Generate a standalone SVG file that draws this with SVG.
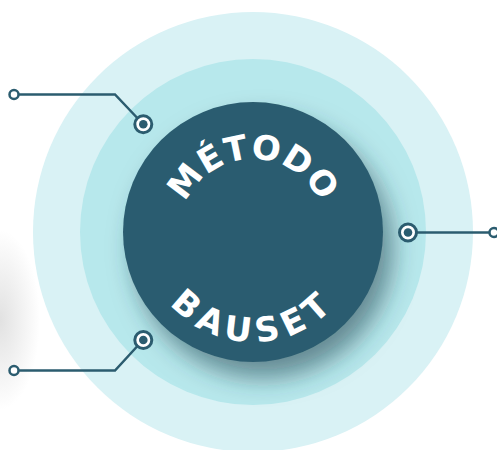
<svg xmlns="http://www.w3.org/2000/svg" width="497" height="450" viewBox="0 0 497 450">
  <defs>
    <style>
      .wire { fill: none; stroke: #2b5c6f; stroke-width: 2.5; stroke-linejoin: miter; }
      .end { fill: #ffffff; stroke: #2b5c6f; stroke-width: 2.5; }
      .node-ring { fill: #ffffff; stroke: #2b5c6f; stroke-width: 3; }
      .node-dot { fill: #2b5c6f; }
      .label { font-family: "DejaVu Sans", "Liberation Sans", sans-serif; font-weight: bold; font-size: 34px; fill: #ffffff; }
    </style>
    <filter id="shadow" x="-40%" y="-40%" width="180%" height="180%">
      <feDropShadow dx="10" dy="16" stdDeviation="12" flood-color="#1d3f4c" flood-opacity="0.55"/>
    </filter>
    <radialGradient id="blob" cx="0.5" cy="0.5" r="0.5">
      <stop offset="0" stop-color="#bdbdbd" stop-opacity="0.45"/>
      <stop offset="1" stop-color="#bdbdbd" stop-opacity="0"/>
    </radialGradient>
    <path id="arcTop" d="M 180,232 A 73 73 0 0 1 326,232"/>
    <path id="arcBottom" d="M 143,232 A 110 110 0 0 0 363,232"/>
  </defs>

  <ellipse cx="0" cy="320" rx="40" ry="90" fill="url(#blob)"/>

  <g id="rings">
    <circle cx="253" cy="232" r="220" fill="#d9f2f5"/>
    <circle cx="253" cy="232" r="173" fill="#b7e8ec"/>
  </g>

  <g id="connectors">
    <path class="wire" d="M 14,94.5 H 115 L 143,124"/>
    <path class="wire" d="M 14,370.5 H 115 L 143,340"/>
    <path class="wire" d="M 408,232.5 H 494"/>
  </g>

  <g id="core">
    <circle cx="253" cy="232" r="130" fill="#2b5c6f" filter="url(#shadow)"/>
    <text class="label" letter-spacing="0.5"><textPath href="#arcTop" startOffset="50%" text-anchor="middle">MÉTODO</textPath></text>
    <text class="label" letter-spacing="6.5"><textPath href="#arcBottom" startOffset="50%" text-anchor="middle">BAUSET</textPath></text>
  </g>

  <g id="node-top-left">
    <circle class="end" cx="14" cy="94.5" r="4.5"/>
    <circle class="node-ring" cx="143.3" cy="124.3" r="8.5"/>
    <circle class="node-dot" cx="143.3" cy="124.3" r="4.3"/>
  </g>
  <g id="node-bottom-left">
    <circle class="end" cx="14" cy="370.5" r="4.5"/>
    <circle class="node-ring" cx="143.3" cy="340" r="8.5"/>
    <circle class="node-dot" cx="143.3" cy="340" r="4.3"/>
  </g>
  <g id="node-right">
    <circle class="end" cx="494" cy="232.5" r="4.5"/>
    <circle class="node-ring" cx="408" cy="232.5" r="8.5"/>
    <circle class="node-dot" cx="408" cy="232.5" r="4.3"/>
  </g>
</svg>
